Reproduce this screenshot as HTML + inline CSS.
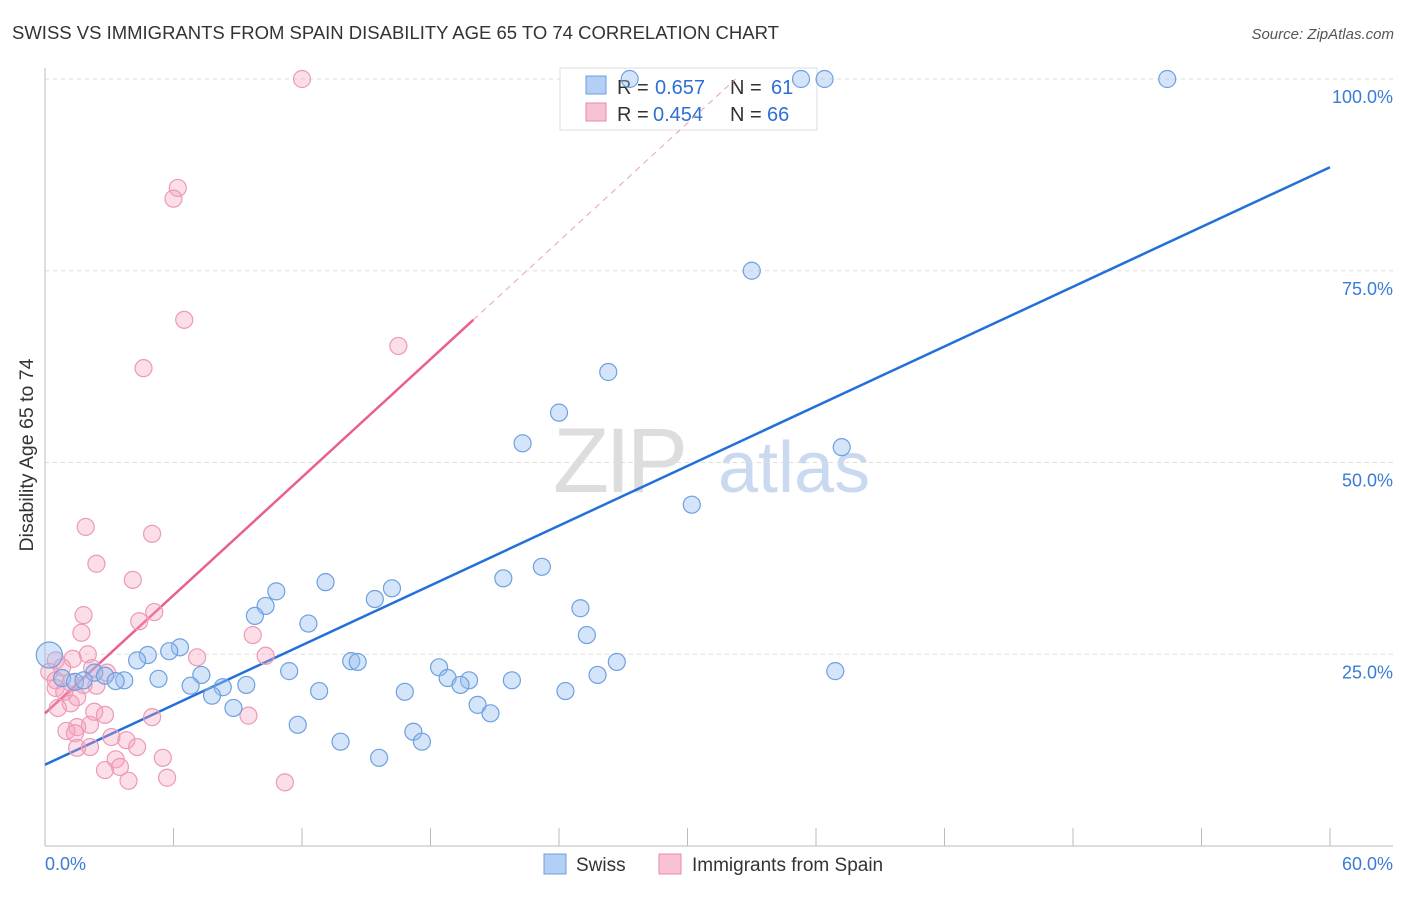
<!DOCTYPE html>
<html><head><meta charset="utf-8"><style>
body{margin:0;background:#fff;font-family:"Liberation Sans",sans-serif}
svg text{font-family:"Liberation Sans",sans-serif}
</style></head><body>
<svg id="c" width="1406" height="892" xmlns="http://www.w3.org/2000/svg">
<text x="12" y="39" font-size="18.5" fill="#333">SWISS VS IMMIGRANTS FROM SPAIN DISABILITY AGE 65 TO 74 CORRELATION CHART</text>
<text x="1394" y="39" font-size="15" fill="#555" font-style="italic" text-anchor="end">Source: ZipAtlas.com</text>
<text transform="translate(33,455) rotate(-90)" font-size="19.5" fill="#333" text-anchor="middle">Disability Age 65 to 74</text>
<g><text x="553" y="492" font-size="92" fill="#ddd" font-family="Liberation Serif" letter-spacing="-4">ZIP</text><text x="718" y="492" font-size="72" fill="#c9daf0">atlas</text></g>
<g id="grid"></g><g id="axes"></g>
<g>
<rect x="560" y="68" width="257" height="62" fill="#fff" stroke="#ddd"/>
<rect x="586" y="76" width="20" height="18" fill="#b3cff5" stroke="#6d9fe0"/>
<text x="617" y="94" font-size="20" fill="#333">R = </text><text x="655" y="94" font-size="20" fill="#2e6fd6">0.657</text>
<text x="730" y="94" font-size="20" fill="#333">N = </text><text x="771" y="94" font-size="20" fill="#2e6fd6">61</text>
<rect x="586" y="103" width="20" height="18" fill="#f9c2d3" stroke="#e889a6"/>
<text x="617" y="121" font-size="20" fill="#333">R = </text><text x="653" y="121" font-size="20" fill="#2e6fd6">0.454</text>
<text x="730" y="121" font-size="20" fill="#333">N = </text><text x="767" y="121" font-size="20" fill="#2e6fd6">66</text>
</g>
<g id="lines"></g><g id="pts"></g>
<g>
<rect x="544" y="854" width="22" height="20" fill="#b3cff5" stroke="#6d9fe0"/>
<text x="576" y="871" font-size="19" fill="#333">Swiss</text>
<rect x="659" y="854" width="22" height="20" fill="#f9c2d3" stroke="#e889a6"/>
<text x="692" y="871" font-size="19" fill="#333">Immigrants from Spain</text>
</g>
</svg>
<script>
const yTicks=[25,50,75,100];
const yTickLabels=["25.0%","50.0%","75.0%","100.0%"];
const xEndLabels=["0.0%","60.0%"];
const swissX=[27.3,35.3,36.4,52.4,33.0,26.3,24.0,22.3,37.2,30.2,23.2,21.4,13.1,16.2,10.8,15.4,10.3,25.0,9.8,12.3,25.3,6.3,5.8,4.8,4.3,14.3,14.6,26.7,18.4,11.4,36.9,2.3,7.3,25.8,2.8,18.8,0.8,19.8,21.8,5.3,3.7,3.3,1.4,1.8,19.4,9.4,8.3,6.8,12.8,24.3,16.8,7.8,20.2,8.8,20.8,11.8,17.2,13.8,17.6,15.6,0.2];
const swissY=[100,100,100,100,75,61.8,56.5,52.5,52,44.5,36.4,34.9,34.4,33.6,33.2,32.2,31.3,31,30,29,27.5,25.9,25.4,24.9,24.2,24.1,24,24,23.3,22.8,22.8,22.6,22.3,22.3,22.2,21.9,21.9,21.6,21.6,21.8,21.6,21.5,21.4,21.6,21,21,20.7,20.9,20.2,20.2,20.1,19.6,18.4,18,17.3,15.8,14.9,13.6,13.6,11.5,24.9];
const spainX=[12.0,6.2,6.0,6.5,16.5,4.6,1.9,5.0,2.4,4.1,1.8,5.1,4.4,1.7,9.7,2.0,7.1,10.3,1.3,0.5,0.8,2.2,2.9,0.2,0.5,1.2,1.8,0.5,0.9,2.4,1.5,1.2,0.6,2.3,2.8,5.0,9.5,2.1,1.5,1.0,1.4,3.1,3.8,2.1,4.3,1.5,3.3,5.5,3.5,2.8,5.7,3.9,11.2];
const spainY=[100,85.8,84.4,68.6,65.2,62.3,41.6,40.7,36.8,34.7,30.1,30.5,29.3,27.8,27.5,25,24.6,24.8,24.4,24.2,23.3,23.2,22.6,22.7,21.6,21.3,21,20.6,20.1,20.9,19.4,18.6,18,17.5,17.1,16.8,17,15.8,15.5,15,14.7,14.2,13.8,12.9,12.9,12.8,11.3,11.5,10.3,9.9,8.9,8.5,8.3];
const swissTrend=[10.6,88.5];
const spainTrend=[17.3,68.6,20.0];
const X=v=>45+v*1285/60, Y=v=>846-v*7.67;
const NS="http://www.w3.org/2000/svg";
function mk(p,t,a){const e=document.createElementNS(NS,t);for(const k in a)e.setAttribute(k,a[k]);document.getElementById(p).appendChild(e);return e;}
yTicks.forEach((t,i)=>{
 const l=mk('grid','line',{x1:45,x2:1393,y1:Y(t),y2:Y(t),stroke:'#ddd','stroke-dasharray':'4,4'});
 
 
 const tx=mk('grid','text',{x:1393,y:Y(t)+24,'font-size':18,fill:'#3a7bd5','text-anchor':'end'});tx.textContent=yTickLabels[i];
 
 
});
const ax=mk('axes','line',{x1:45,x2:45,y1:68,y2:846,stroke:'#bbb'});


const bx=mk('axes','line',{x1:45,x2:1393,y1:846,y2:846,stroke:'#bbb'});


for(let i=0;i<=10;i++){const t=mk('axes','line',{x1:X(i*6),x2:X(i*6),y1:828,y2:846,stroke:'#bbb'});
 
 }
[[X(0)+0,'start',0],[X(60)+63,'end',1]].forEach(([x,a,i])=>{const t=mk('axes','text',{x:x,y:870,'font-size':18,fill:'#3a7bd5','text-anchor':a});t.textContent=xEndLabels[i];
 
 });
const bl=mk('lines','line',{x1:X(0),y1:Y(swissTrend[0]),x2:X(60),y2:Y(swissTrend[1]),stroke:'#2370d8','stroke-width':2.5});


const slope=(spainTrend[1]-spainTrend[0])/spainTrend[2];
const pl=mk('lines','line',{x1:X(0),y1:Y(spainTrend[0]),x2:X(spainTrend[2]),y2:Y(spainTrend[1]),stroke:'#e8608e','stroke-width':2.5});


const xe=(100-spainTrend[0])/slope;
const pd=mk('lines','line',{x1:X(spainTrend[2]),y1:Y(spainTrend[1]),x2:X(xe),y2:Y(100),stroke:'#e8a0b8','stroke-width':1,'stroke-dasharray':'6,5'});


spainX.forEach((x,i)=>{const c=mk('pts','circle',{cx:X(x),cy:Y(spainY[i]),r:8.5,fill:'rgba(246,160,188,0.35)',stroke:'#ec9ab5','stroke-width':1.2});
 
 });
swissX.forEach((x,i)=>{const c=mk('pts','circle',{cx:X(x),cy:Y(swissY[i]),r:i==swissX.length-1?13:8.5,fill:'rgba(150,190,240,0.4)',stroke:'#6ea0e0','stroke-width':1.2});
 
 });
</script>
</body></html>
